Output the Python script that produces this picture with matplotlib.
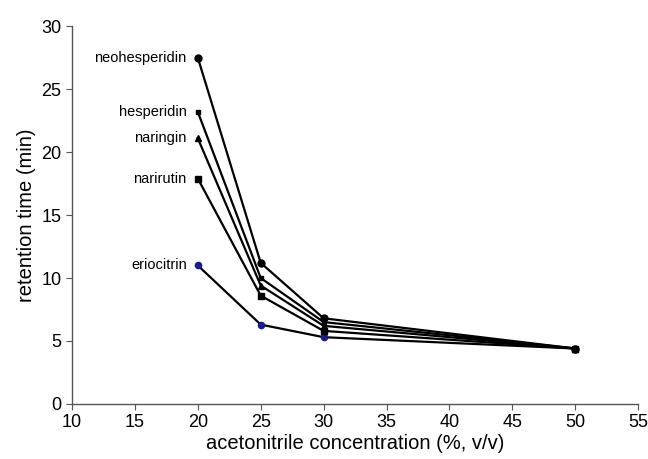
import matplotlib
matplotlib.use("Agg")
import matplotlib.pyplot as plt

plt.rcParams['font.family'] = ['Liberation Sans', 'DejaVu Sans']

# acetonitrile concentration (%, v/v)
conc = [20, 25, 30, 50]

# retention times (min)
eriocitrin = [11.0, 6.3, 5.3, 4.4]
neohesperidin = [27.5, 11.2, 6.8, 4.4]
hesperidin = [23.2, 10.0, 6.5, 4.4]
naringin = [21.1, 9.4, 6.2, 4.4]
narirutin = [17.9, 8.6, 5.8, 4.4]

names = ['eriocitrin', 'neohesperidin', 'hesperidin', 'naringin', 'narirutin']
series = [eriocitrin, neohesperidin, hesperidin, naringin, narirutin]
markers = ['o', 'o', 's', '^', 's']
msizes = [4.5, 5, 2.5, 5, 5]
mcolors = ['#1a1a8c', 'black', 'black', 'black', 'black']

fig = plt.figure(figsize=(6.48, 4.59), dpi=100)
ax = fig.add_axes([0.111, 0.12, 0.874, 0.823])

for name, y, m, ms, mc in zip(names, series, markers, msizes, mcolors):
    ax.plot(conc, y, color='black', lw=1.6, marker=m, ms=ms,
            mfc=mc, mec=mc, zorder=3)
    ax.annotate(name, (conc[0], y[0]), xytext=(-8, 0),
                textcoords='offset points', ha='right', va='center',
                fontsize=10.5)

ax.set_xlim(10, 55)
ax.set_ylim(0, 30)
ax.set_xticks(range(10, 56, 5))
ax.set_yticks(range(0, 31, 5))
ax.spines['top'].set_visible(False)
ax.spines['right'].set_visible(False)
for s in ['left', 'bottom']:
    ax.spines[s].set_color('#555555')
    ax.spines[s].set_linewidth(1.0)
ax.tick_params(direction='out', length=4, color='#555555', labelsize=13)
ax.set_xlabel('acetonitrile concentration (%, v/v)', fontsize=14.5, labelpad=2)
ax.set_ylabel('retention time (min)', fontsize=14.5)

fig.savefig('out.png', dpi=100)
